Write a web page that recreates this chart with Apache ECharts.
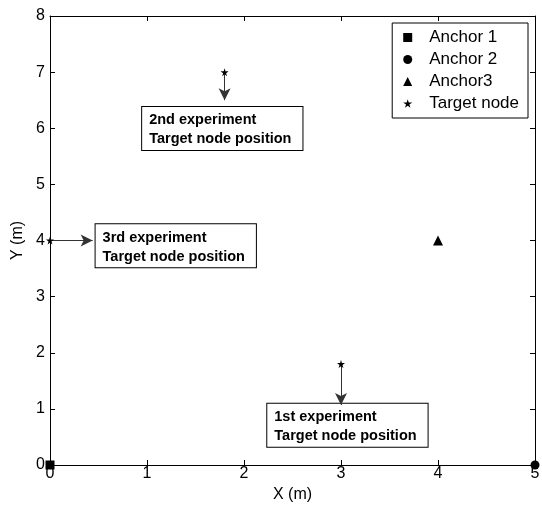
<!DOCTYPE html>
<html><head><meta charset="utf-8">
<script src="https://cdn.jsdelivr.net/npm/echarts@6/dist/echarts.min.js"></script>
<style>html,body{margin:0;padding:0;background:#fff}#c{width:542px;height:507px}</style>
</head><body><div id="c"></div>
<script>
var xTicks = [0, 1, 2, 3, 4, 5];
var yTicks = [0, 1, 2, 3, 4, 5, 6, 7, 8];
var anchor1 = [[0, 0]];
var anchor2 = [[5, 0]];
var anchor3 = [[4, 4]];
var targets = [[3, 1.8], [1.8, 7], [0, 4]];
var arrowFrom = [[3, 1.8], [1.8, 7], [0, 4]];
var arrowTo = [[3, 1.07], [1.8, 6.5], [0.44, 4]];
var noteAnchors = [[2.24, 1.09], [0.95, 6.38], [0.47, 4.29]];
var noteTexts = ['1st experiment\nTarget node position', '2nd experiment\nTarget node position', '3rd experiment\nTarget node position'];

var STAR = 'path://M50,0 L61,35 L98,35 L68,57 L79,91 L50,70 L21,91 L32,57 L2,35 L39,35 Z';
var FONT = 'Liberation Sans, Arial, sans-serif';

var chart = echarts.init(document.getElementById('c'));
function axisBase() {
  return {
    type: 'value',
    axisLine: {show: true, onZero: false, lineStyle: {color: '#000', width: 1}},
    axisTick: {show: true, inside: true, length: 5, lineStyle: {color: '#000'}},
    splitLine: {show: false}
  };
}
chart.setOption({
  animation: false,
  textStyle: {fontFamily: FONT},
  grid: {left: 50, right: 7, top: 16, bottom: 42, containLabel: false, outerBoundsMode: 'none'},
  xAxis: [
    Object.assign(axisBase(), {min: 0, max: 5, interval: 1, position: 'bottom',
      name: 'X (m)', nameLocation: 'middle', nameGap: 15,
      nameTextStyle: {color: '#000', fontSize: 16, fontFamily: FONT},
      axisLabel: {color: '#000', fontSize: 16, margin: 1, fontFamily: FONT}}),
    Object.assign(axisBase(), {min: 0, max: 5, interval: 1, position: 'top',
      axisLabel: {show: false}})
  ],
  yAxis: [
    Object.assign(axisBase(), {min: 0, max: 8, interval: 1, position: 'left',
      name: 'Y (m)', nameLocation: 'middle', nameGap: 24,
      nameTextStyle: {color: '#000', fontSize: 16, fontFamily: FONT},
      axisLabel: {color: '#000', fontSize: 16, margin: 5, fontFamily: FONT}}),
    Object.assign(axisBase(), {min: 0, max: 8, interval: 1, position: 'right',
      axisLabel: {show: false}})
  ],
  legend: {
    orient: 'vertical', right: 14, top: 23,
    backgroundColor: '#fff', borderColor: '#000', borderWidth: 1,
    padding: [6, 9, 6, 11], itemGap: 5, itemWidth: 9, itemHeight: 9,
    textStyle: {color: '#000', fontSize: 17, lineHeight: 17, fontFamily: FONT, padding: [0, 0, 0, 12]},
    data: [
      {name: 'Anchor 1', icon: 'rect'},
      {name: 'Anchor 2', icon: 'circle'},
      {name: 'Anchor3', icon: 'triangle'},
      {name: 'Target node', icon: STAR}
    ]
  },
  series: [
    {name: 'Anchor 1', type: 'scatter', data: anchor1, symbol: 'rect', symbolSize: 9,
      itemStyle: {color: '#000', opacity: 1}, clip: false, z: 5},
    {name: 'Anchor 2', type: 'scatter', data: anchor2, symbol: 'circle', symbolSize: 9,
      itemStyle: {color: '#000', opacity: 1}, clip: false, z: 5},
    {name: 'Anchor3', type: 'scatter', data: anchor3, symbol: 'triangle', symbolSize: 10,
      itemStyle: {color: '#000', opacity: 1}, clip: false, z: 5},
    {name: 'Target node', type: 'scatter', data: targets, symbol: STAR, symbolSize: 8,
      itemStyle: {color: '#000', opacity: 1}, clip: false, z: 6,
      markLine: {
        silent: true, symbol: ['none', 'arrow'], symbolSize: [9, 12],
        label: {show: false},
        lineStyle: {color: '#333', width: 1, type: 'solid', opacity: 1},
        data: arrowFrom.map(function (f, i) {
          return [{coord: f}, {coord: arrowTo[i]}];
        })
      }
    },
    {name: 'notes', type: 'scatter', symbolSize: 0, clip: false, silent: true, z: 4,
      itemStyle: {opacity: 1},
      data: noteAnchors.map(function (p, i) { return {value: p, text: noteTexts[i]}; }),
      label: {
        show: true, position: [0, 0], align: 'left', verticalAlign: 'top',
        formatter: function (p) { return p.data.text; },
        color: '#000', fontSize: 14.5, fontWeight: 'bold', lineHeight: 19, fontFamily: FONT,
        backgroundColor: '#fff', borderColor: '#000', borderWidth: 1,
        padding: [4, 11, 1, 7]
      }
    }
  ]
});
</script></body></html>
